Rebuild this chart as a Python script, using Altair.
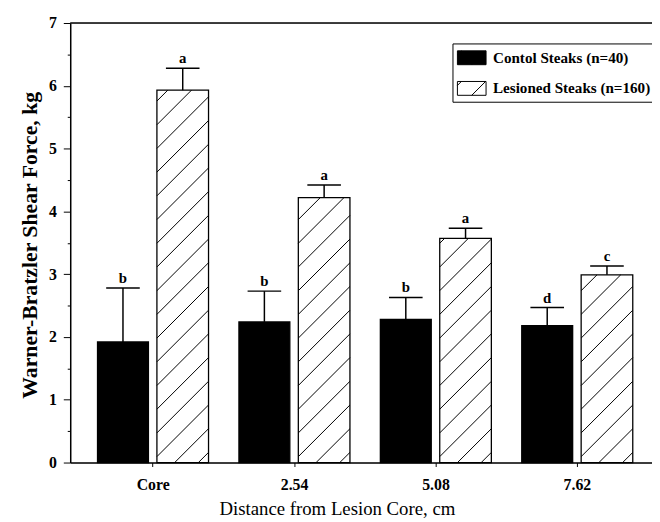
import json
import altair as alt
import pandas as pd

# ---------------- data ----------------
categories = ["Core", "2.54", "5.08", "7.62"]
series = ["Contol Steaks (n=40)", "Lesioned Steaks (n=160)"]
control_mean = [1.92, 2.24, 2.28, 2.18]
control_err_top = [2.78, 2.73, 2.63, 2.47]
lesion_mean = [5.93, 4.22, 3.57, 2.99]
lesion_err_top = [6.28, 4.42, 3.73, 3.13]
control_letters = ["b", "b", "b", "d"]
lesion_letters = ["a", "a", "a", "c"]
y_tick_values = [0, 0.5, 1, 1.5, 2, 2.5, 3, 3.5, 4, 4.5, 5, 5.5, 6, 6.5, 7]

# ---------------- layout / style constants ----------------
W, H = 589, 445
XMIN, XMAX = -0.583, 3.531
YMAX = 7
PX_X = W / (XMAX - XMIN)
PX_Y = H / YMAX
FONT = "Liberation Serif"
bar_span = {series[0]: (-0.39, -0.03), series[1]: (0.03, 0.395)}
HATCH_SPACING = 24  # px, vertical distance between hatch lines

rows = []
for i, cat in enumerate(categories):
    for s, means, errs, letters in (
        (series[0], control_mean, control_err_top, control_letters),
        (series[1], lesion_mean, lesion_err_top, lesion_letters),
    ):
        lo, hi = bar_span[s]
        rows.append(dict(cat=cat, series=s, x0=i + lo, x1=i + hi,
                         xc=i + (lo + hi) / 2, mean=means[i], err=errs[i],
                         letter=letters[i]))
df = pd.DataFrame(rows)

# hatching (45 degree lines) inside the lesioned bars
hatch = []
for r in rows:
    if r["series"] != series[1]:
        continue
    wpx = (r["x1"] - r["x0"]) * PX_X
    hpx = r["mean"] * PX_Y
    k = -int(wpx // HATCH_SPACING) - 1
    while True:
        c = k * HATCH_SPACING + 6
        k += 1
        if c >= hpx:
            break
        xs = max(0.0, -c)
        xe = min(wpx, hpx - c)
        if xe <= xs + 0.5:
            continue
        hatch.append(dict(x=r["x0"] + xs / PX_X, x2=r["x0"] + xe / PX_X,
                          y=(xs + c) / PX_Y, y2=(xe + c) / PX_Y))
hatch_df = pd.DataFrame(hatch)

x_scale = alt.Scale(domain=[XMIN, XMAX], nice=False, zero=False)
y_scale = alt.Scale(domain=[0, YMAX], nice=False, zero=True)

x_axis = alt.Axis(
    values=list(range(len(categories))),
    labelExpr=json.dumps(categories) + "[datum.value]",
    title="Distance from Lesion Core, cm",
    grid=False, tickSize=4, tickColor="black", tickWidth=1,
    domainColor="black", domainWidth=1.5,
    labelFont=FONT, labelFontSize=16, labelFontWeight="bold", labelColor="black",
    labelPadding=10,
    titleFont=FONT, titleFontSize=19, titleFontWeight="normal", titleColor="black",
    titleX=270, titleY=53, titleBaseline="alphabetic", titleAlign="center",
)
y_axis = alt.Axis(
    values=y_tick_values,
    labelExpr="datum.value % 1 === 0 ? format(datum.value, 'd') : ''",
    title="Warner-Bratzler Shear Force, kg",
    grid=False,
    tickSize={"condition": {"test": "datum.value % 1 === 0", "value": 7}, "value": 3},
    tickColor="black", tickWidth=1,
    domainColor="black", domainWidth=1.5,
    labelFont=FONT, labelFontSize=16, labelFontWeight="bold", labelColor="black",
    labelPadding=7,
    titleFont=FONT, titleFontSize=22, titleFontWeight="bold", titleColor="black",
    titleX=-34, titleY=H / 2 + 2, titleBaseline="alphabetic", titleAlign="center",
    titleAngle=270,
)


def X(field, **kw):
    return alt.X(field, type="quantitative", scale=x_scale, axis=x_axis, **kw)


def Y(field, **kw):
    return alt.Y(field, type="quantitative", scale=y_scale, axis=y_axis, **kw)


legend_symbol = "M-1.45,-0.7H1.45V0.7H-1.45Z M0,0.7L1.4,-0.7 M-1.45,-0.3L-1.05,-0.7"

bars = alt.Chart(df).mark_rect(stroke="black", strokeWidth=1.3).encode(
    x=X("x0"), x2="x1", y=Y("mean"), y2=alt.datum(0),
    fill=alt.Fill(
        "series:N",
        scale=alt.Scale(domain=series, range=["black", "white"]),
        legend=alt.Legend(
            title=None, orient="none", legendX=387, legendY=20.7,
            symbolType=legend_symbol, symbolSize=400,
            symbolStrokeColor="black", symbolStrokeWidth=1, symbolOpacity=1,
            symbolOffset=5, labelOffset=11,
            labelFont=FONT, labelFontSize=15.3, labelFontWeight="bold",
            labelColor="black", labelLimit=400,
            rowPadding=11, padding=4, strokeColor="black", fillColor="white",
        ),
    ),
)

hatch_lines = alt.Chart(hatch_df).mark_rule(color="black", strokeWidth=1).encode(
    x=X("x"), x2="x2", y=Y("y"), y2="y2"
)

stems = alt.Chart(df).mark_rule(color="black", strokeWidth=1.5).encode(
    x=X("xc"), y=Y("mean"), y2="err"
)

caps = alt.Chart(df).mark_tick(orient="horizontal", size=34, thickness=1.5,
                               color="black", opacity=1).encode(
    x=X("xc"), y=Y("err")
)

letters = alt.Chart(df).mark_text(font=FONT, fontSize=15, fontWeight="bold",
                                  color="black", dy=-5,
                                  baseline="alphabetic").encode(
    x=X("xc"), y=Y("err"), text="letter:N"
)

top_line = alt.Chart(pd.DataFrame({"v": [YMAX]})).mark_rule(
    color="black", strokeWidth=1.5
).encode(
    x=alt.X(datum=XMIN, type="quantitative", scale=x_scale, axis=x_axis),
    x2=alt.datum(XMAX),
    y=Y("v"),
)

chart = alt.layer(bars, hatch_lines, stems, caps, letters, top_line).properties(
    width=W, height=H,
    padding={"left": 63, "top": 12, "right": 0, "bottom": 57},
    autosize=alt.AutoSizeParams(type="none"),
).configure_view(strokeWidth=0).configure(font=FONT, background="white")

chart.save("out.html", embed_options={"renderer": "svg", "actions": False})
